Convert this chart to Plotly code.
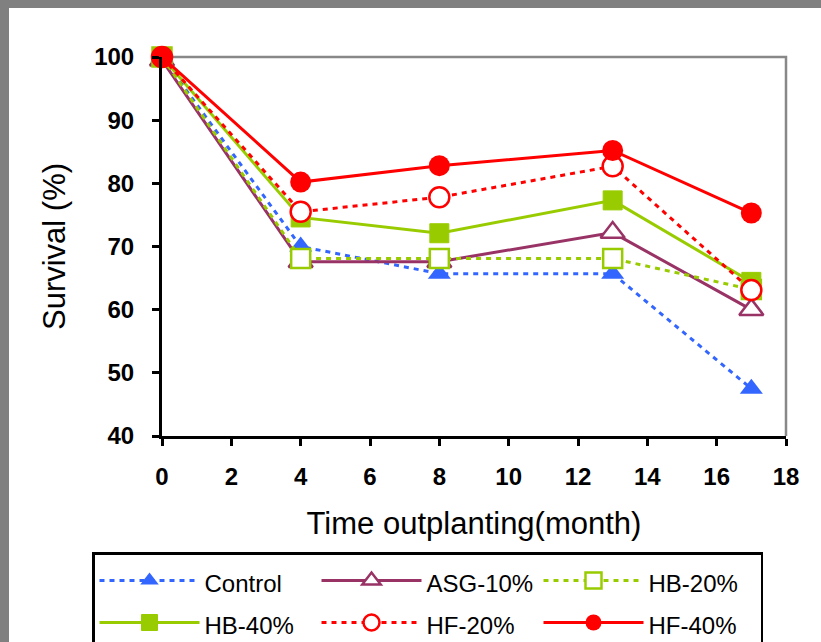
import plotly.graph_objects as go

months = [0, 4, 8, 13, 17]
control = [100, 70.0, 65.7, 65.7, 47.5]
asg10 = [99.5, 67.6, 67.6, 72.2, 60.0]
hb20 = [100, 68.1, 68.1, 68.1, 63.2]
hb40 = [100, 74.6, 72.1, 77.3, 64.4]
hf20 = [100, 75.5, 77.8, 82.7, 63.1]
hf40 = [100, 80.2, 82.8, 85.2, 75.3]

series = [
    ("Control", control, "#3366FF", "5px,5px", dict(symbol="triangle-up", size=20, color="#3366FF")),
    ("ASG-10%", asg10, "#993366", "solid", dict(symbol="triangle-up", size=21, color="white", line=dict(color="#993366", width=2.5))),
    ("HB-20%", hb20, "#99CC00", "5px,5px", dict(symbol="square", size=19, color="white", line=dict(color="#99CC00", width=2.5))),
    ("HB-40%", hb40, "#99CC00", "solid", dict(symbol="square", size=19, color="#99CC00", line=dict(color="#99CC00", width=1))),
    ("HF-20%", hf20, "#FF0000", "5px,5px", dict(symbol="circle", size=20, color="white", line=dict(color="#FF0000", width=2.5))),
    ("HF-40%", hf40, "#FF0000", "solid", dict(symbol="circle", size=21, color="#FF0000")),
]

fig = go.Figure()
for name, vals, col, dash, mk in series:
    fig.add_trace(go.Scatter(
        x=months, y=vals, name=f"<span style='font-size:24px'>{name}</span>",
        mode="lines+markers",
        line=dict(color=col, width=3, dash=dash),
        marker=mk, cliponaxis=False,
    ))

W, H = 821, 642
L, R, T, B = 162, 35, 57, 206
pw, ph = W - L - R, H - T - B

def px2x(p):
    return (p - L) / pw

def px2y(p):
    return (H - B - p) / ph

shapes = [
    dict(type="rect", xref="paper", yref="paper", x0=px2x(0), x1=px2x(W), y0=px2y(8), y1=px2y(0),
         fillcolor="#808080", line=dict(width=0), layer="below"),
    dict(type="rect", xref="paper", yref="paper", x0=px2x(0), x1=px2x(9), y0=px2y(H), y1=px2y(0),
         fillcolor="#808080", line=dict(width=0), layer="below"),
    dict(type="path", xref="paper", yref="paper", path="M 0 1 L 1 1 L 1 0",
         line=dict(color="#888888", width=2.5), layer="below"),
]

fig.update_layout(
    width=W, height=H,
    margin=dict(l=L, r=R, t=T, b=B, autoexpand=False),
    paper_bgcolor="white", plot_bgcolor="white",
    font=dict(family="Arial", color="black"),
    showlegend=True,
    shapes=shapes,
    legend=dict(
        orientation="h", x=px2x(92), xanchor="left", y=px2y(552), yanchor="top",
        bordercolor="black", borderwidth=2.5, bgcolor="white",
        font=dict(size=30, family="Arial", color="black"),
        entrywidth=107, entrywidthmode="pixels", itemwidth=100,
        traceorder="normal",
    ),
    xaxis=dict(
        range=[0, 18], dtick=2, tick0=0, showgrid=False, zeroline=False,
        showline=True, linecolor="black", linewidth=3,
        ticks="outside", ticklen=7, tickwidth=2.5, tickcolor="black",
        tickfont=dict(size=24, family="Arial", weight="bold"),
        ticklabelstandoff=10,
        title=dict(text="Time outplanting(month)", font=dict(size=31), standoff=24),
    ),
    yaxis=dict(
        range=[40, 100], dtick=10, tick0=40, showgrid=False, zeroline=False,
        showline=True, linecolor="black", linewidth=3,
        ticks="outside", ticklen=7, tickwidth=2.5, tickcolor="black",
        tickfont=dict(size=24, family="Arial", weight="bold"),
        ticklabelstandoff=13,
        title=dict(text="Survival (%)", font=dict(size=31), standoff=20),
    ),
)

fig.write_html("out.html")
